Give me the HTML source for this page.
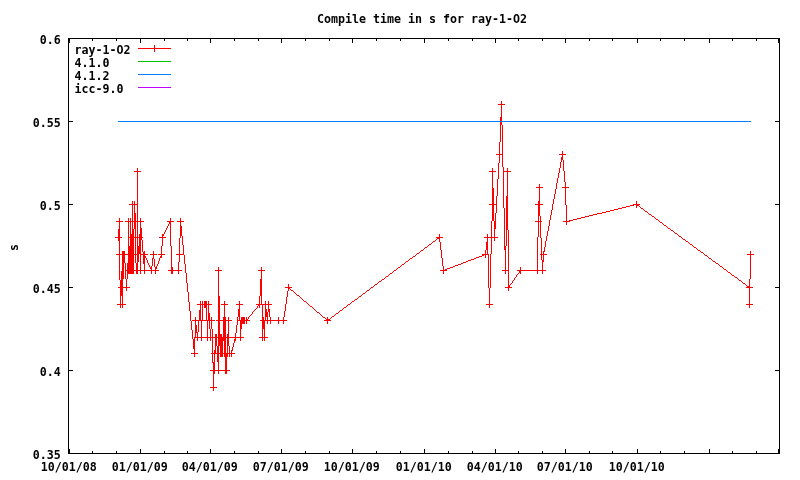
<!DOCTYPE html>
<html lang="en"><head><meta charset="utf-8"><title>Compile time in s for ray-1-O2</title>
<style>html,body{margin:0;padding:0;background:#fff;overflow:hidden}svg{display:block}text{font-family:"DejaVu Sans Mono","Liberation Mono",monospace;font-weight:bold;font-size:11.63px;fill:#000}</style></head><body>
<svg width="800" height="480" viewBox="0 0 800 480">
<rect width="800" height="480" fill="#fff"/>
<g shape-rendering="crispEdges" fill="#000">
<rect x="68" y="38" width="712" height="1"/>
<rect x="68" y="453" width="712" height="1"/>
<rect x="68" y="38" width="1" height="416"/>
<rect x="779" y="38" width="1" height="416"/>
<rect x="68" y="453" width="5" height="1"/>
<rect x="775" y="453" width="5" height="1"/>
<rect x="68" y="370" width="5" height="1"/>
<rect x="775" y="370" width="5" height="1"/>
<rect x="68" y="287" width="5" height="1"/>
<rect x="775" y="287" width="5" height="1"/>
<rect x="68" y="204" width="5" height="1"/>
<rect x="775" y="204" width="5" height="1"/>
<rect x="68" y="121" width="5" height="1"/>
<rect x="775" y="121" width="5" height="1"/>
<rect x="68" y="38" width="5" height="1"/>
<rect x="775" y="38" width="5" height="1"/>
<rect x="69" y="449" width="1" height="5"/>
<rect x="69" y="38" width="1" height="5"/>
<rect x="92" y="451" width="1" height="3"/>
<rect x="92" y="38" width="1" height="3"/>
<rect x="116" y="451" width="1" height="3"/>
<rect x="116" y="38" width="1" height="3"/>
<rect x="140" y="449" width="1" height="5"/>
<rect x="140" y="38" width="1" height="5"/>
<rect x="164" y="451" width="1" height="3"/>
<rect x="164" y="38" width="1" height="3"/>
<rect x="187" y="451" width="1" height="3"/>
<rect x="187" y="38" width="1" height="3"/>
<rect x="210" y="449" width="1" height="5"/>
<rect x="210" y="38" width="1" height="5"/>
<rect x="234" y="451" width="1" height="3"/>
<rect x="234" y="38" width="1" height="3"/>
<rect x="258" y="451" width="1" height="3"/>
<rect x="258" y="38" width="1" height="3"/>
<rect x="281" y="449" width="1" height="5"/>
<rect x="281" y="38" width="1" height="5"/>
<rect x="305" y="451" width="1" height="3"/>
<rect x="305" y="38" width="1" height="3"/>
<rect x="329" y="451" width="1" height="3"/>
<rect x="329" y="38" width="1" height="3"/>
<rect x="352" y="449" width="1" height="5"/>
<rect x="352" y="38" width="1" height="5"/>
<rect x="376" y="451" width="1" height="3"/>
<rect x="376" y="38" width="1" height="3"/>
<rect x="400" y="451" width="1" height="3"/>
<rect x="400" y="38" width="1" height="3"/>
<rect x="424" y="449" width="1" height="5"/>
<rect x="424" y="38" width="1" height="5"/>
<rect x="448" y="451" width="1" height="3"/>
<rect x="448" y="38" width="1" height="3"/>
<rect x="472" y="451" width="1" height="3"/>
<rect x="472" y="38" width="1" height="3"/>
<rect x="495" y="449" width="1" height="5"/>
<rect x="495" y="38" width="1" height="5"/>
<rect x="518" y="451" width="1" height="3"/>
<rect x="518" y="38" width="1" height="3"/>
<rect x="542" y="451" width="1" height="3"/>
<rect x="542" y="38" width="1" height="3"/>
<rect x="565" y="449" width="1" height="5"/>
<rect x="565" y="38" width="1" height="5"/>
<rect x="589" y="451" width="1" height="3"/>
<rect x="589" y="38" width="1" height="3"/>
<rect x="612" y="451" width="1" height="3"/>
<rect x="612" y="38" width="1" height="3"/>
<rect x="637" y="449" width="1" height="5"/>
<rect x="637" y="38" width="1" height="5"/>
<rect x="660" y="451" width="1" height="3"/>
<rect x="660" y="38" width="1" height="3"/>
<rect x="684" y="451" width="1" height="3"/>
<rect x="684" y="38" width="1" height="3"/>
<rect x="709" y="449" width="1" height="5"/>
<rect x="709" y="38" width="1" height="5"/>
<rect x="732" y="451" width="1" height="3"/>
<rect x="732" y="38" width="1" height="3"/>
<rect x="756" y="451" width="1" height="3"/>
<rect x="756" y="38" width="1" height="3"/>
<rect x="778" y="449" width="1" height="5"/>
<rect x="778" y="38" width="1" height="5"/>
</g>
<g>
<text x="422" y="23.1" text-anchor="middle">Compile time in s for ray-1-O2</text>
<text x="60.8" y="458.7" text-anchor="end">0.35</text>
<text x="60.8" y="375.7" text-anchor="end">0.4</text>
<text x="60.8" y="292.7" text-anchor="end">0.45</text>
<text x="60.8" y="209.7" text-anchor="end">0.5</text>
<text x="60.8" y="126.7" text-anchor="end">0.55</text>
<text x="60.8" y="43.7" text-anchor="end">0.6</text>
<text x="68.8" y="470.9" text-anchor="middle">10/01/08</text>
<text x="139.8" y="470.9" text-anchor="middle">01/01/09</text>
<text x="209.8" y="470.9" text-anchor="middle">04/01/09</text>
<text x="280.8" y="470.9" text-anchor="middle">07/01/09</text>
<text x="351.8" y="470.9" text-anchor="middle">10/01/09</text>
<text x="423.8" y="470.9" text-anchor="middle">01/01/10</text>
<text x="494.8" y="470.9" text-anchor="middle">04/01/10</text>
<text x="564.8" y="470.9" text-anchor="middle">07/01/10</text>
<text x="636.8" y="470.9" text-anchor="middle">10/01/10</text>
<text transform="translate(18,247.4) rotate(-90)" text-anchor="middle">s</text>
<text x="74.4" y="53.7">ray-1-O2</text>
<text x="74.4" y="66.7">4.1.0</text>
<text x="74.4" y="79.7">4.1.2</text>
<text x="74.4" y="92.7">icc-9.0</text>
</g>
<g shape-rendering="crispEdges">
<rect x="138" y="48" width="33" height="1" fill="#ff0000"/>
<rect x="138" y="61" width="33" height="1" fill="#00c000"/>
<rect x="138" y="74" width="33" height="1" fill="#0080ff"/>
<rect x="138" y="87" width="33" height="1" fill="#c000ff"/>
<rect x="154" y="45" width="1" height="7" fill="#ff0000"/>
</g>
<path d="M115 237v1h1v-1zM116 221v1h1v-1zM116 237v1h1v-1zM116 254v1h1v-1zM117 221v1h1v-1zM117 237v1h1v-1zM117 254v1h1v-1zM117 304v1h1v-1zM118 221v1h1v-1zM118 229v12h1v-12zM118 254v1h1v-1zM118 287v1h1v-1zM118 304v1h1v-1zM119 218v62h1v-62zM119 287v1h1v-1zM119 304v1h1v-1zM120 221v1h1v-1zM120 237v1h1v-1zM120 254v1h1v-1zM120 280v28h1v-28zM121 221v1h1v-1zM121 237v1h1v-1zM121 254v1h1v-1zM121 271v25h1v-25zM121 304v1h1v-1zM122 221v1h1v-1zM122 251v57h1v-57zM123 251v28h1v-28zM123 287v1h1v-1zM123 304v1h1v-1zM124 251v12h1v-12zM124 287v1h1v-1zM124 304v1h1v-1zM125 221v1h1v-1zM125 254v1h1v-1zM125 263v16h1v-16zM125 287v1h1v-1zM125 304v1h1v-1zM126 221v1h1v-1zM126 254v1h1v-1zM126 270v1h1v-1zM126 279v12h1v-12zM127 221v1h1v-1zM127 254v1h1v-1zM127 263v16h1v-16zM127 287v1h1v-1zM128 218v56h1v-56zM128 287v1h1v-1zM129 204v1h1v-1zM129 221v1h1v-1zM129 237v1h1v-1zM129 246v28h1v-28zM129 287v1h1v-1zM130 204v1h1v-1zM130 218v56h1v-56zM131 204v1h1v-1zM131 221v1h1v-1zM131 234v40h1v-40zM132 201v73h1v-73zM133 204v1h1v-1zM133 221v1h1v-1zM133 229v45h1v-45zM134 171v1h1v-1zM134 201v28h1v-28zM134 237v1h1v-1zM134 254v1h1v-1zM134 270v1h1v-1zM135 171v1h1v-1zM135 204v1h1v-1zM135 213v50h1v-50zM135 270v1h1v-1zM136 171v1h1v-1zM136 204v1h1v-1zM136 221v1h1v-1zM136 237v1h1v-1zM136 254v1h1v-1zM136 263v11h1v-11zM137 168v106h1v-106zM138 171v1h1v-1zM138 221v1h1v-1zM138 237v1h1v-1zM138 246v16h1v-16zM138 270v1h1v-1zM139 171v1h1v-1zM139 221v1h1v-1zM139 234v20h1v-20zM139 270v1h1v-1zM140 171v1h1v-1zM140 218v56h1v-56zM141 221v1h1v-1zM141 228v12h1v-12zM141 254v1h1v-1zM141 270v1h1v-1zM142 221v1h1v-1zM142 237v1h1v-1zM142 240v12h1v-12zM142 254v1h1v-1zM142 270v1h1v-1zM143 221v1h1v-1zM143 252v12h1v-12zM143 270v1h1v-1zM144 251v23h1v-23zM145 254v1h1v-1zM145 256v2h1v-2zM145 270v1h1v-1zM146 254v1h1v-1zM146 258v2h1v-2zM146 270v1h1v-1zM147 254v1h1v-1zM147 260v3h1v-3zM147 270v1h1v-1zM148 263v2h1v-2zM148 270v1h1v-1zM149 265v2h1v-2zM149 270v1h1v-1zM150 254v1h1v-1zM150 267v2h1v-2zM150 270v1h1v-1zM151 254v1h1v-1zM151 266v8h1v-8zM152 254v1h1v-1zM152 258v8h1v-8zM152 270v1h1v-1zM153 251v8h1v-8zM153 270v1h1v-1zM154 254v1h1v-1zM154 259v8h1v-8zM154 270v1h1v-1zM155 254v1h1v-1zM155 267v7h1v-7zM156 254v1h1v-1zM156 266v3h1v-3zM156 270v1h1v-1zM157 264v2h1v-2zM157 270v1h1v-1zM158 254v1h1v-1zM158 261v3h1v-3zM158 270v1h1v-1zM159 237v1h1v-1zM159 254v1h1v-1zM159 258v3h1v-3zM160 237v1h1v-1zM160 254v1h1v-1zM160 256v2h1v-2zM161 237v1h1v-1zM161 246v12h1v-12zM162 234v12h1v-12zM162 254v1h1v-1zM163 234v2h1v-2zM163 237v1h1v-1zM163 254v1h1v-1zM164 232v2h1v-2zM164 237v1h1v-1zM164 254v1h1v-1zM165 230v2h1v-2zM165 237v1h1v-1zM166 228v2h1v-2zM167 221v1h1v-1zM167 226v2h1v-2zM168 221v1h1v-1zM168 224v2h1v-2zM168 270v1h1v-1zM169 221v3h1v-3zM169 270v1h1v-1zM170 218v28h1v-28zM170 270v1h1v-1zM171 221v1h1v-1zM171 246v28h1v-28zM172 221v1h1v-1zM172 267v7h1v-7zM173 221v1h1v-1zM173 270v1h1v-1zM174 270v1h1v-1zM175 270v1h1v-1zM176 254v1h1v-1zM176 270v1h1v-1zM177 221v1h1v-1zM177 254v1h1v-1zM177 270v1h1v-1zM178 221v1h1v-1zM178 254v1h1v-1zM178 262v12h1v-12zM179 221v1h1v-1zM179 238v24h1v-24zM179 270v1h1v-1zM180 218v20h1v-20zM180 254v1h1v-1zM180 270v1h1v-1zM181 221v1h1v-1zM181 226v10h1v-10zM181 254v1h1v-1zM181 270v1h1v-1zM182 221v1h1v-1zM182 236v9h1v-9zM182 254v1h1v-1zM183 221v1h1v-1zM183 245v10h1v-10zM184 255v9h1v-9zM185 264v9h1v-9zM186 273v10h1v-10zM187 283v9h1v-9zM188 292v10h1v-10zM189 302v9h1v-9zM190 311v10h1v-10zM191 321v9h1v-9zM191 353v1h1v-1zM192 320v1h1v-1zM192 330v9h1v-9zM192 353v1h1v-1zM193 320v1h1v-1zM193 339v10h1v-10zM193 353v1h1v-1zM194 320v1h1v-1zM194 337v20h1v-20zM195 317v21h1v-21zM195 353v1h1v-1zM196 320v1h1v-1zM196 325v8h1v-8zM196 337v1h1v-1zM196 353v1h1v-1zM197 304v1h1v-1zM197 320v1h1v-1zM197 332v9h1v-9zM197 353v1h1v-1zM198 304v1h1v-1zM198 320v12h1v-12zM198 337v1h1v-1zM199 304v1h1v-1zM199 310v11h1v-11zM199 337v1h1v-1zM200 301v20h1v-20zM200 337v1h1v-1zM201 304v1h1v-1zM201 320v21h1v-21zM202 301v20h1v-20zM202 337v1h1v-1zM203 304v1h1v-1zM203 320v1h1v-1zM203 337v1h1v-1zM204 301v7h1v-7zM204 320v1h1v-1zM204 337v1h1v-1zM205 301v7h1v-7zM205 320v1h1v-1zM205 337v1h1v-1zM206 301v20h1v-20zM206 337v1h1v-1zM207 304v1h1v-1zM207 320v21h1v-21zM208 301v20h1v-20zM208 337v1h1v-1zM209 304v1h1v-1zM209 313v16h1v-16zM209 337v1h1v-1zM210 304v1h1v-1zM210 320v1h1v-1zM210 329v12h1v-12zM210 370v1h1v-1zM210 387v1h1v-1zM211 304v1h1v-1zM211 317v12h1v-12zM211 337v1h1v-1zM211 353v1h1v-1zM211 370v1h1v-1zM211 387v1h1v-1zM212 320v1h1v-1zM212 329v34h1v-34zM212 370v1h1v-1zM212 387v1h1v-1zM213 320v1h1v-1zM213 337v1h1v-1zM213 353v1h1v-1zM213 362v29h1v-29zM214 320v1h1v-1zM214 337v1h1v-1zM214 350v24h1v-24zM214 387v1h1v-1zM215 270v1h1v-1zM215 334v20h1v-20zM215 370v1h1v-1zM215 387v1h1v-1zM216 270v1h1v-1zM216 320v1h1v-1zM216 334v12h1v-12zM216 353v1h1v-1zM216 370v1h1v-1zM216 387v1h1v-1zM217 270v1h1v-1zM217 320v1h1v-1zM217 337v1h1v-1zM217 346v16h1v-16zM217 370v1h1v-1zM218 267v107h1v-107zM219 270v1h1v-1zM219 296v50h1v-50zM219 353v1h1v-1zM219 370v1h1v-1zM220 270v1h1v-1zM220 320v1h1v-1zM220 334v23h1v-23zM220 370v1h1v-1zM221 270v1h1v-1zM221 304v1h1v-1zM221 320v1h1v-1zM221 334v23h1v-23zM221 370v1h1v-1zM222 304v1h1v-1zM222 320v1h1v-1zM222 337v20h1v-20zM222 370v1h1v-1zM223 304v1h1v-1zM223 317v24h1v-24zM223 353v1h1v-1zM223 370v1h1v-1zM224 301v56h1v-56zM224 370v1h1v-1zM225 304v1h1v-1zM225 317v57h1v-57zM226 304v1h1v-1zM226 320v1h1v-1zM226 337v1h1v-1zM226 353v21h1v-21zM227 304v1h1v-1zM227 320v1h1v-1zM227 334v23h1v-23zM227 370v1h1v-1zM228 317v29h1v-29zM228 353v1h1v-1zM228 370v1h1v-1zM229 320v1h1v-1zM229 337v1h1v-1zM229 346v11h1v-11zM229 370v1h1v-1zM230 320v1h1v-1zM230 337v1h1v-1zM230 353v1h1v-1zM231 320v1h1v-1zM231 337v1h1v-1zM231 350v7h1v-7zM232 337v1h1v-1zM232 347v4h1v-4zM232 353v1h1v-1zM233 337v1h1v-1zM233 343v4h1v-4zM233 353v1h1v-1zM234 337v1h1v-1zM234 339v4h1v-4zM234 353v1h1v-1zM235 333v8h1v-8zM236 304v1h1v-1zM236 325v8h1v-8zM236 337v1h1v-1zM237 304v1h1v-1zM237 317v8h1v-8zM237 337v1h1v-1zM238 304v1h1v-1zM238 309v8h1v-8zM238 320v1h1v-1zM238 337v1h1v-1zM239 301v20h1v-20zM239 337v1h1v-1zM240 304v1h1v-1zM240 320v21h1v-21zM241 304v1h1v-1zM241 317v12h1v-12zM241 337v1h1v-1zM242 304v1h1v-1zM242 317v7h1v-7zM242 337v1h1v-1zM243 317v7h1v-7zM243 337v1h1v-1zM244 317v7h1v-7zM245 320v1h1v-1zM246 317v7h1v-7zM247 319v2h1v-2zM248 317v2h1v-2zM248 320v1h1v-1zM249 316v1h1v-1zM249 320v1h1v-1zM250 315v1h1v-1zM251 314v1h1v-1zM252 312v2h1v-2zM253 311v1h1v-1zM254 310v1h1v-1zM255 309v1h1v-1zM256 304v1h1v-1zM256 308v1h1v-1zM257 304v1h1v-1zM257 306v2h1v-2zM258 270v1h1v-1zM258 304v2h1v-2zM259 270v1h1v-1zM259 296v12h1v-12zM259 337v1h1v-1zM260 270v1h1v-1zM260 279v17h1v-17zM260 304v1h1v-1zM260 320v1h1v-1zM260 337v1h1v-1zM261 267v38h1v-38zM261 320v1h1v-1zM261 337v1h1v-1zM262 270v1h1v-1zM262 304v37h1v-37zM263 270v1h1v-1zM263 304v1h1v-1zM263 317v12h1v-12zM263 337v1h1v-1zM264 270v1h1v-1zM264 304v1h1v-1zM264 320v21h1v-21zM265 301v20h1v-20zM265 337v1h1v-1zM266 304v1h1v-1zM266 309v8h1v-8zM266 320v1h1v-1zM266 337v1h1v-1zM267 304v1h1v-1zM267 312v12h1v-12zM267 337v1h1v-1zM268 301v11h1v-11zM268 320v1h1v-1zM269 304v1h1v-1zM269 309v8h1v-8zM269 320v1h1v-1zM270 304v1h1v-1zM270 317v7h1v-7zM271 304v1h1v-1zM271 320v1h1v-1zM272 320v1h1v-1zM273 320v1h1v-1zM274 320v1h1v-1zM275 320v1h1v-1zM276 320v1h1v-1zM277 320v1h1v-1zM278 317v7h1v-7zM279 320v1h1v-1zM280 320v1h1v-1zM281 320v1h1v-1zM282 320v1h1v-1zM283 317v7h1v-7zM284 311v6h1v-6zM284 320v1h1v-1zM285 287v1h1v-1zM285 304v7h1v-7zM285 320v1h1v-1zM286 287v1h1v-1zM286 297v7h1v-7zM286 320v1h1v-1zM287 287v1h1v-1zM287 291v6h1v-6zM288 284v7h1v-7zM289 287v2h1v-2zM290 287v1h1v-1zM290 289v1h1v-1zM291 287v1h1v-1zM291 290v1h1v-1zM292 290v1h1v-1zM293 291v1h1v-1zM294 292v1h1v-1zM295 293v1h1v-1zM296 294v1h1v-1zM297 295v1h1v-1zM298 295v1h1v-1zM299 296v1h1v-1zM300 297v1h1v-1zM301 298v1h1v-1zM302 299v1h1v-1zM303 300v1h1v-1zM304 301v1h1v-1zM305 301v1h1v-1zM306 302v1h1v-1zM307 303v1h1v-1zM308 304v1h1v-1zM309 305v1h1v-1zM310 306v1h1v-1zM311 306v1h1v-1zM312 307v1h1v-1zM313 308v1h1v-1zM314 309v1h1v-1zM315 310v1h1v-1zM316 311v1h1v-1zM317 312v1h1v-1zM318 312v1h1v-1zM319 313v1h1v-1zM320 314v1h1v-1zM321 315v1h1v-1zM322 316v1h1v-1zM323 317v1h1v-1zM324 317v1h1v-1zM324 320v1h1v-1zM325 318v1h1v-1zM325 320v1h1v-1zM326 319v2h1v-2zM327 317v7h1v-7zM328 319v2h1v-2zM329 319v2h1v-2zM330 318v1h1v-1zM330 320v1h1v-1zM331 317v1h1v-1zM332 316v1h1v-1zM333 316v1h1v-1zM334 315v1h1v-1zM335 314v1h1v-1zM336 313v1h1v-1zM337 313v1h1v-1zM338 312v1h1v-1zM339 311v1h1v-1zM340 310v1h1v-1zM341 310v1h1v-1zM342 309v1h1v-1zM343 308v1h1v-1zM344 307v1h1v-1zM345 307v1h1v-1zM346 306v1h1v-1zM347 305v1h1v-1zM348 304v1h1v-1zM349 304v1h1v-1zM350 303v1h1v-1zM351 302v1h1v-1zM352 301v1h1v-1zM353 301v1h1v-1zM354 300v1h1v-1zM355 299v1h1v-1zM356 299v1h1v-1zM357 298v1h1v-1zM358 297v1h1v-1zM359 296v1h1v-1zM360 296v1h1v-1zM361 295v1h1v-1zM362 294v1h1v-1zM363 293v1h1v-1zM364 293v1h1v-1zM365 292v1h1v-1zM366 291v1h1v-1zM367 290v1h1v-1zM368 290v1h1v-1zM369 289v1h1v-1zM370 288v1h1v-1zM371 287v1h1v-1zM372 287v1h1v-1zM373 286v1h1v-1zM374 285v1h1v-1zM375 284v1h1v-1zM376 284v1h1v-1zM377 283v1h1v-1zM378 282v1h1v-1zM379 281v1h1v-1zM380 281v1h1v-1zM381 280v1h1v-1zM382 279v1h1v-1zM383 279v1h1v-1zM384 278v1h1v-1zM385 277v1h1v-1zM386 276v1h1v-1zM387 276v1h1v-1zM388 275v1h1v-1zM389 274v1h1v-1zM390 273v1h1v-1zM391 273v1h1v-1zM392 272v1h1v-1zM393 271v1h1v-1zM394 270v1h1v-1zM395 270v1h1v-1zM396 269v1h1v-1zM397 268v1h1v-1zM398 267v1h1v-1zM399 267v1h1v-1zM400 266v1h1v-1zM401 265v1h1v-1zM402 264v1h1v-1zM403 264v1h1v-1zM404 263v1h1v-1zM405 262v1h1v-1zM406 261v1h1v-1zM407 261v1h1v-1zM408 260v1h1v-1zM409 259v1h1v-1zM410 258v1h1v-1zM411 258v1h1v-1zM412 257v1h1v-1zM413 256v1h1v-1zM414 256v1h1v-1zM415 255v1h1v-1zM416 254v1h1v-1zM417 253v1h1v-1zM418 253v1h1v-1zM419 252v1h1v-1zM420 251v1h1v-1zM421 250v1h1v-1zM422 250v1h1v-1zM423 249v1h1v-1zM424 248v1h1v-1zM425 247v1h1v-1zM426 247v1h1v-1zM427 246v1h1v-1zM428 245v1h1v-1zM429 244v1h1v-1zM430 244v1h1v-1zM431 243v1h1v-1zM432 242v1h1v-1zM433 241v1h1v-1zM434 241v1h1v-1zM435 240v1h1v-1zM436 237v1h1v-1zM436 239v1h1v-1zM437 237v2h1v-2zM438 237v2h1v-2zM439 234v8h1v-8zM440 237v1h1v-1zM440 242v8h1v-8zM440 270v1h1v-1zM441 237v1h1v-1zM441 250v8h1v-8zM441 270v1h1v-1zM442 237v1h1v-1zM442 258v8h1v-8zM442 270v1h1v-1zM443 266v8h1v-8zM444 270v1h1v-1zM445 269v2h1v-2zM446 269v2h1v-2zM447 268v1h1v-1zM448 268v1h1v-1zM449 268v1h1v-1zM450 267v1h1v-1zM451 267v1h1v-1zM452 267v1h1v-1zM453 266v1h1v-1zM454 266v1h1v-1zM455 265v1h1v-1zM456 265v1h1v-1zM457 265v1h1v-1zM458 264v1h1v-1zM459 264v1h1v-1zM460 264v1h1v-1zM461 263v1h1v-1zM462 263v1h1v-1zM463 262v1h1v-1zM464 262v1h1v-1zM465 262v1h1v-1zM466 261v1h1v-1zM467 261v1h1v-1zM468 260v1h1v-1zM469 260v1h1v-1zM470 260v1h1v-1zM471 259v1h1v-1zM472 259v1h1v-1zM473 259v1h1v-1zM474 258v1h1v-1zM475 258v1h1v-1zM476 257v1h1v-1zM477 257v1h1v-1zM478 257v1h1v-1zM479 256v1h1v-1zM480 256v1h1v-1zM481 256v1h1v-1zM482 254v2h1v-2zM483 254v2h1v-2zM484 237v1h1v-1zM484 254v1h1v-1zM485 237v1h1v-1zM485 250v8h1v-8zM486 237v1h1v-1zM486 242v8h1v-8zM486 254v1h1v-1zM486 304v1h1v-1zM487 234v21h1v-21zM487 304v1h1v-1zM488 237v1h1v-1zM488 254v34h1v-34zM488 304v1h1v-1zM489 171v1h1v-1zM489 204v1h1v-1zM489 237v1h1v-1zM489 288v20h1v-20zM490 171v1h1v-1zM490 204v1h1v-1zM490 237v1h1v-1zM490 254v34h1v-34zM490 304v1h1v-1zM491 171v1h1v-1zM491 204v1h1v-1zM491 221v33h1v-33zM491 304v1h1v-1zM492 168v53h1v-53zM492 237v1h1v-1zM492 304v1h1v-1zM493 171v1h1v-1zM493 188v33h1v-33zM493 237v1h1v-1zM494 171v1h1v-1zM494 204v1h1v-1zM494 221v20h1v-20zM495 171v1h1v-1zM495 204v1h1v-1zM495 213v16h1v-16zM495 237v1h1v-1zM496 154v1h1v-1zM496 196v17h1v-17zM496 237v1h1v-1zM497 154v1h1v-1zM497 179v17h1v-17zM497 237v1h1v-1zM498 104v1h1v-1zM498 154v1h1v-1zM498 163v16h1v-16zM499 104v1h1v-1zM499 142v21h1v-21zM500 104v1h1v-1zM500 117v25h1v-25zM500 154v1h1v-1zM501 101v24h1v-24zM501 154v1h1v-1zM502 104v1h1v-1zM502 125v42h1v-42zM502 270v1h1v-1zM503 104v1h1v-1zM503 167v41h1v-41zM503 270v1h1v-1zM504 104v1h1v-1zM504 171v1h1v-1zM504 208v42h1v-42zM504 270v1h1v-1zM505 171v1h1v-1zM505 246v28h1v-28zM505 287v1h1v-1zM506 171v1h1v-1zM506 196v50h1v-50zM506 270v1h1v-1zM506 287v1h1v-1zM507 168v62h1v-62zM507 270v1h1v-1zM507 287v1h1v-1zM508 171v1h1v-1zM508 230v61h1v-61zM509 171v1h1v-1zM509 285v3h1v-3zM510 171v1h1v-1zM510 284v1h1v-1zM510 287v1h1v-1zM511 283v1h1v-1zM511 287v1h1v-1zM512 281v2h1v-2zM513 280v1h1v-1zM514 278v2h1v-2zM515 277v1h1v-1zM516 275v2h1v-2zM517 270v1h1v-1zM517 274v1h1v-1zM518 270v1h1v-1zM518 273v1h1v-1zM519 270v3h1v-3zM520 267v7h1v-7zM521 270v1h1v-1zM522 270v1h1v-1zM523 270v1h1v-1zM524 270v1h1v-1zM525 270v1h1v-1zM526 270v1h1v-1zM527 270v1h1v-1zM528 270v1h1v-1zM529 270v1h1v-1zM530 270v1h1v-1zM531 270v1h1v-1zM532 270v1h1v-1zM533 270v1h1v-1zM534 270v1h1v-1zM535 204v1h1v-1zM535 221v1h1v-1zM535 270v1h1v-1zM536 187v1h1v-1zM536 204v1h1v-1zM536 221v1h1v-1zM536 270v1h1v-1zM537 187v1h1v-1zM537 204v1h1v-1zM537 221v1h1v-1zM537 237v37h1v-37zM538 187v1h1v-1zM538 201v36h1v-36zM538 270v1h1v-1zM539 184v32h1v-32zM539 221v1h1v-1zM539 270v1h1v-1zM540 187v1h1v-1zM540 204v1h1v-1zM540 216v22h1v-22zM540 254v1h1v-1zM540 270v1h1v-1zM541 187v1h1v-1zM541 204v1h1v-1zM541 221v1h1v-1zM541 238v22h1v-22zM541 270v1h1v-1zM542 187v1h1v-1zM542 204v1h1v-1zM542 254v1h1v-1zM542 260v14h1v-14zM543 251v11h1v-11zM543 270v1h1v-1zM544 247v5h1v-5zM544 254v1h1v-1zM544 270v1h1v-1zM545 241v6h1v-6zM545 254v1h1v-1zM545 270v1h1v-1zM546 236v5h1v-5zM546 254v1h1v-1zM547 231v5h1v-5zM548 226v5h1v-5zM549 220v6h1v-6zM550 215v5h1v-5zM551 210v5h1v-5zM552 204v6h1v-6zM553 199v5h1v-5zM554 194v5h1v-5zM555 189v5h1v-5zM556 183v6h1v-6zM557 178v5h1v-5zM558 173v5h1v-5zM559 154v1h1v-1zM559 168v5h1v-5zM560 154v1h1v-1zM560 162v6h1v-6zM561 154v1h1v-1zM561 157v5h1v-5zM562 151v9h1v-9zM562 187v1h1v-1zM563 154v1h1v-1zM563 160v11h1v-11zM563 187v1h1v-1zM563 221v1h1v-1zM564 154v1h1v-1zM564 171v11h1v-11zM564 187v1h1v-1zM564 221v1h1v-1zM565 154v1h1v-1zM565 182v23h1v-23zM565 221v1h1v-1zM566 187v1h1v-1zM566 205v20h1v-20zM567 187v1h1v-1zM567 221v1h1v-1zM568 187v1h1v-1zM568 221v1h1v-1zM569 220v2h1v-2zM570 220v1h1v-1zM571 220v1h1v-1zM572 220v1h1v-1zM573 219v1h1v-1zM574 219v1h1v-1zM575 219v1h1v-1zM576 219v1h1v-1zM577 218v1h1v-1zM578 218v1h1v-1zM579 218v1h1v-1zM580 218v1h1v-1zM581 217v1h1v-1zM582 217v1h1v-1zM583 217v1h1v-1zM584 217v1h1v-1zM585 216v1h1v-1zM586 216v1h1v-1zM587 216v1h1v-1zM588 216v1h1v-1zM589 215v1h1v-1zM590 215v1h1v-1zM591 215v1h1v-1zM592 215v1h1v-1zM593 214v1h1v-1zM594 214v1h1v-1zM595 214v1h1v-1zM596 214v1h1v-1zM597 213v1h1v-1zM598 213v1h1v-1zM599 213v1h1v-1zM600 213v1h1v-1zM601 213v1h1v-1zM602 212v1h1v-1zM603 212v1h1v-1zM604 212v1h1v-1zM605 212v1h1v-1zM606 211v1h1v-1zM607 211v1h1v-1zM608 211v1h1v-1zM609 211v1h1v-1zM610 210v1h1v-1zM611 210v1h1v-1zM612 210v1h1v-1zM613 210v1h1v-1zM614 209v1h1v-1zM615 209v1h1v-1zM616 209v1h1v-1zM617 209v1h1v-1zM618 208v1h1v-1zM619 208v1h1v-1zM620 208v1h1v-1zM621 208v1h1v-1zM622 207v1h1v-1zM623 207v1h1v-1zM624 207v1h1v-1zM625 207v1h1v-1zM626 206v1h1v-1zM627 206v1h1v-1zM628 206v1h1v-1zM629 206v1h1v-1zM630 205v1h1v-1zM631 205v1h1v-1zM632 205v1h1v-1zM633 204v2h1v-2zM634 204v1h1v-1zM635 204v1h1v-1zM636 201v7h1v-7zM637 204v2h1v-2zM638 204v2h1v-2zM639 204v1h1v-1zM639 206v1h1v-1zM640 207v1h1v-1zM641 208v1h1v-1zM642 208v1h1v-1zM643 209v1h1v-1zM644 210v1h1v-1zM645 211v1h1v-1zM646 211v1h1v-1zM647 212v1h1v-1zM648 213v1h1v-1zM649 214v1h1v-1zM650 214v1h1v-1zM651 215v1h1v-1zM652 216v1h1v-1zM653 216v1h1v-1zM654 217v1h1v-1zM655 218v1h1v-1zM656 219v1h1v-1zM657 219v1h1v-1zM658 220v1h1v-1zM659 221v1h1v-1zM660 222v1h1v-1zM661 222v1h1v-1zM662 223v1h1v-1zM663 224v1h1v-1zM664 225v1h1v-1zM665 225v1h1v-1zM666 226v1h1v-1zM667 227v1h1v-1zM668 228v1h1v-1zM669 228v1h1v-1zM670 229v1h1v-1zM671 230v1h1v-1zM672 230v1h1v-1zM673 231v1h1v-1zM674 232v1h1v-1zM675 233v1h1v-1zM676 233v1h1v-1zM677 234v1h1v-1zM678 235v1h1v-1zM679 236v1h1v-1zM680 236v1h1v-1zM681 237v1h1v-1zM682 238v1h1v-1zM683 239v1h1v-1zM684 239v1h1v-1zM685 240v1h1v-1zM686 241v1h1v-1zM687 241v1h1v-1zM688 242v1h1v-1zM689 243v1h1v-1zM690 244v1h1v-1zM691 244v1h1v-1zM692 245v1h1v-1zM693 246v1h1v-1zM694 247v1h1v-1zM695 247v1h1v-1zM696 248v1h1v-1zM697 249v1h1v-1zM698 250v1h1v-1zM699 250v1h1v-1zM700 251v1h1v-1zM701 252v1h1v-1zM702 252v1h1v-1zM703 253v1h1v-1zM704 254v1h1v-1zM705 255v1h1v-1zM706 255v1h1v-1zM707 256v1h1v-1zM708 257v1h1v-1zM709 258v1h1v-1zM710 258v1h1v-1zM711 259v1h1v-1zM712 260v1h1v-1zM713 261v1h1v-1zM714 261v1h1v-1zM715 262v1h1v-1zM716 263v1h1v-1zM717 263v1h1v-1zM718 264v1h1v-1zM719 265v1h1v-1zM720 266v1h1v-1zM721 266v1h1v-1zM722 267v1h1v-1zM723 268v1h1v-1zM724 269v1h1v-1zM725 269v1h1v-1zM726 270v1h1v-1zM727 271v1h1v-1zM728 272v1h1v-1zM729 272v1h1v-1zM730 273v1h1v-1zM731 274v1h1v-1zM732 275v1h1v-1zM733 275v1h1v-1zM734 276v1h1v-1zM735 277v1h1v-1zM736 277v1h1v-1zM737 278v1h1v-1zM738 279v1h1v-1zM739 280v1h1v-1zM740 280v1h1v-1zM741 281v1h1v-1zM742 282v1h1v-1zM743 283v1h1v-1zM744 283v1h1v-1zM745 284v1h1v-1zM746 285v1h1v-1zM746 287v1h1v-1zM746 304v1h1v-1zM747 254v1h1v-1zM747 286v2h1v-2zM747 304v1h1v-1zM748 254v1h1v-1zM748 286v2h1v-2zM748 304v1h1v-1zM749 254v1h1v-1zM749 279v29h1v-29zM750 251v28h1v-28zM750 287v1h1v-1zM750 304v1h1v-1zM751 254v1h1v-1zM751 287v1h1v-1zM751 304v1h1v-1zM752 254v1h1v-1zM752 287v1h1v-1zM752 304v1h1v-1zM753 254v1h1v-1z" fill="#ff0000" shape-rendering="crispEdges"/>
<rect x="118" y="121" width="633" height="1" fill="#0080ff" shape-rendering="crispEdges"/>
</svg></body></html>
